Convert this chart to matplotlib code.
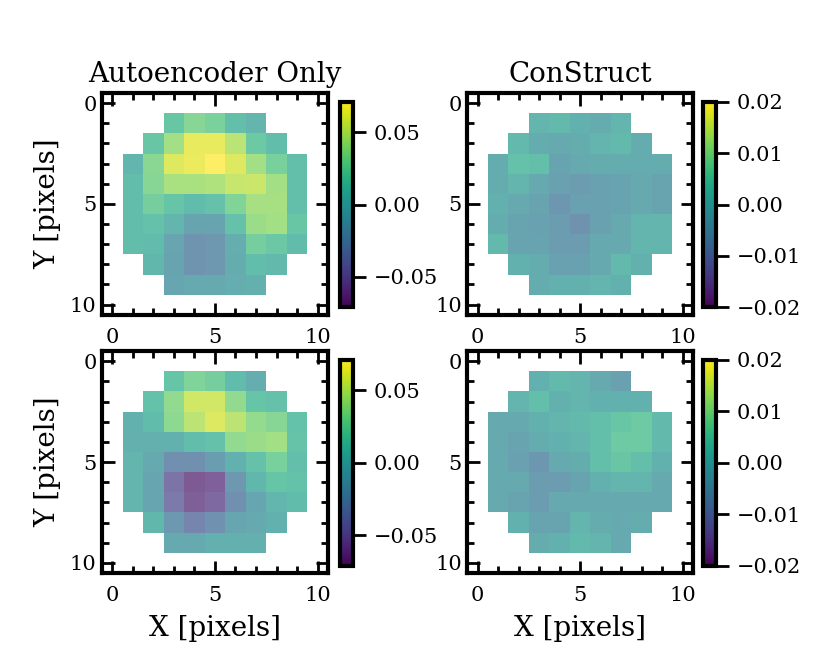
import matplotlib
matplotlib.use("Agg")
import matplotlib.pyplot as plt
import numpy as np
from matplotlib import cm, colors
from matplotlib.ticker import MultipleLocator

n = np.nan

# residual maps, 11x11 pixels (nan = outside the aperture)
ae_top = np.array([
    [n, n, n, n, n, n, n, n, n, n, n],
    [n, n, n, 0.018, 0.033, 0.028, 0.011, 0.003, n, n, n],
    [n, n, 0.018, 0.043, 0.064, 0.064, 0.050, 0.021, 0.010, n, n],
    [n, 0.004, 0.034, 0.061, 0.065, 0.071, 0.060, 0.043, 0.027, 0.011, n],
    [n, 0.010, 0.033, 0.045, 0.045, 0.047, 0.054, 0.055, 0.043, 0.011, n],
    [n, 0.010, 0.026, 0.017, 0.009, 0.014, 0.031, 0.044, 0.044, 0.011, n],
    [n, 0.010, 0.014, 0.003, -0.011, -0.011, 0.014, 0.040, 0.043, 0.018, n],
    [n, 0.010, 0.009, -0.010, -0.024, -0.021, -0.003, 0.026, 0.020, 0.009, n],
    [n, n, 0.006, -0.011, -0.024, -0.021, -0.004, 0.010, 0.007, n, n],
    [n, n, n, -0.009, -0.007, -0.006, -0.003, -0.001, n, n, n],
    [n, n, n, n, n, n, n, n, n, n, n],
])

cs_top = np.array([
    [n, n, n, n, n, n, n, n, n, n, n],
    [n, n, n, 0.001, 0.002, 0.0, -0.001, 0.001, n, n, n],
    [n, n, 0.002, -0.001, -0.002, -0.001, 0.001, 0.002, -0.001, n, n],
    [n, -0.001, 0.004, 0.003, -0.003, -0.002, -0.001, -0.001, -0.001, -0.001, n],
    [n, -0.001, 0.001, -0.002, -0.004, -0.005, -0.004, -0.003, -0.002, -0.003, n],
    [n, 0.0, -0.002, -0.003, -0.006, -0.004, -0.004, -0.003, -0.002, -0.003, n],
    [n, -0.001, -0.003, -0.004, -0.005, -0.007, -0.004, -0.002, 0.001, 0.001, n],
    [n, 0.002, -0.003, -0.003, -0.005, -0.005, -0.002, -0.002, 0.001, 0.001, n],
    [n, n, 0.0, -0.001, -0.004, -0.004, -0.002, 0.002, 0.0, n, n],
    [n, n, n, -0.001, 0.0, 0.0, 0.001, 0.0, n, n, n],
    [n, n, n, n, n, n, n, n, n, n, n],
])

ae_bot = np.array([
    [n, n, n, n, n, n, n, n, n, n, n],
    [n, n, n, 0.017, 0.030, 0.026, 0.009, -0.003, n, n, n],
    [n, n, 0.013, 0.037, 0.057, 0.057, 0.037, 0.017, 0.014, n, n],
    [n, 0.0, 0.009, 0.036, 0.051, 0.060, 0.051, 0.038, 0.033, 0.013, n],
    [n, -0.001, -0.001, 0.0, 0.010, 0.014, 0.037, 0.040, 0.043, 0.016, n],
    [n, 0.003, -0.006, -0.028, -0.028, -0.017, 0.0, 0.014, 0.027, 0.011, n],
    [n, 0.003, -0.009, -0.048, -0.064, -0.060, -0.021, 0.006, 0.017, 0.013, n],
    [n, 0.003, -0.009, -0.044, -0.061, -0.054, -0.028, -0.009, 0.004, 0.009, n],
    [n, n, 0.006, -0.020, -0.036, -0.027, -0.009, -0.007, 0.0, n, n],
    [n, n, n, -0.006, -0.007, -0.001, -0.001, -0.001, n, n, n],
    [n, n, n, n, n, n, n, n, n, n, n],
])

cs_bot = np.array([
    [n, n, n, n, n, n, n, n, n, n, n],
    [n, n, n, 0.0, 0.002, 0.001, -0.002, -0.004, n, n, n],
    [n, n, 0.001, 0.003, 0.0, 0.001, 0.0, 0.0, 0.0, n, n],
    [n, -0.002, -0.002, 0.0, 0.001, 0.002, 0.003, 0.005, 0.006, 0.002, n],
    [n, -0.002, -0.003, -0.001, 0.0, 0.001, 0.003, 0.006, 0.006, 0.002, n],
    [n, -0.002, -0.004, -0.006, -0.002, -0.001, 0.003, 0.005, 0.003, 0.0, n],
    [n, -0.002, -0.002, -0.005, -0.005, -0.003, 0.0, 0.001, 0.001, -0.002, n],
    [n, -0.002, -0.003, -0.005, -0.002, -0.002, -0.002, -0.002, -0.002, -0.002, n],
    [n, n, 0.0, -0.003, -0.003, 0.001, -0.001, -0.002, -0.001, n, n],
    [n, n, n, -0.001, 0.0, 0.002, 0.001, -0.002, n, n, n],
    [n, n, n, n, n, n, n, n, n, n, n],
])

titles = ["Autoencoder Only", "ConStruct"]
limits = [0.071, 0.02]
cbar_ticks = [[-0.05, 0.0, 0.05], [-0.02, -0.01, 0.0, 0.01, 0.02]]
maps = [[ae_top, cs_top], [ae_bot, cs_bot]]

plt.rcParams['font.family'] = 'DejaVu Serif'
fig = plt.figure(figsize=(8.3, 6.64), dpi=100)

lefts = [0.123, 0.563]
bottoms = [0.526, 0.137]
cb_lefts = [0.4096, 0.847]

for r in range(2):
    for c in range(2):
        ax = fig.add_axes([lefts[c], bottoms[r], 0.272, 0.334])
        lim = limits[c]
        ax.imshow(maps[r][c], cmap='viridis', vmin=-lim, vmax=lim, alpha=0.7,
                  interpolation='nearest', aspect='auto')
        ax.set_xlim(-0.5, 10.5)
        ax.set_ylim(10.5, -0.5)
        ax.set_xticks([0, 5, 10])
        ax.set_yticks([0, 5, 10])
        ax.xaxis.set_minor_locator(MultipleLocator(1))
        ax.yaxis.set_minor_locator(MultipleLocator(1))
        ax.tick_params(which='both', direction='in', top=True, right=True, width=2,
                       labelsize=15)
        ax.tick_params(axis='x', which='major', pad=9.5)
        ax.tick_params(axis='y', which='major', pad=4)
        ax.tick_params(which='major', length=9)
        ax.tick_params(which='minor', length=5)
        for s in ax.spines.values():
            s.set_linewidth(3)
        if r == 0:
            ax.set_title(titles[c], fontsize=20, pad=8)
        else:
            ax.set_xlabel('X [pixels]', fontsize=20, labelpad=7)
        if c == 0:
            ax.set_ylabel('Y [pixels]', fontsize=20, labelpad=6)

        cax = fig.add_axes([cb_lefts[c], bottoms[r] + 0.011, 0.0157, 0.31])
        sm = cm.ScalarMappable(norm=colors.Normalize(-lim, lim), cmap='viridis')
        cb = fig.colorbar(sm, cax=cax, ticks=cbar_ticks[c])
        cb.outline.set_linewidth(3)
        cax.tick_params(length=9, width=2, labelsize=15, pad=6)

fig.savefig('out.png', dpi=100)
